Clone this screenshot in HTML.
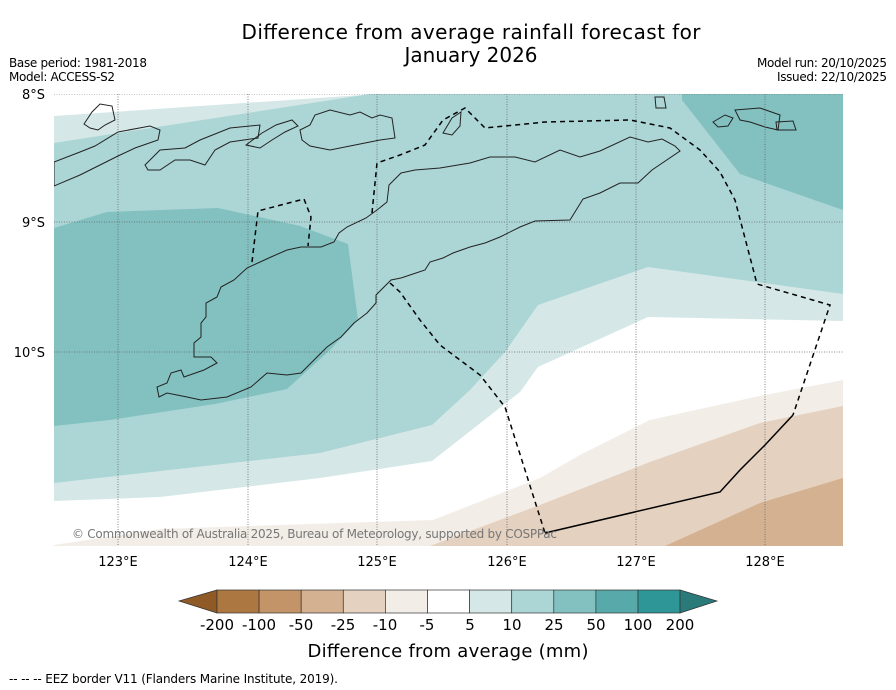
<!DOCTYPE html>
<html><head><meta charset="utf-8"><style>
html,body{margin:0;padding:0;background:#fff;}
svg{display:block;font-family:"DejaVu Sans","Liberation Sans",sans-serif;}
</style></head><body>
<svg width="896" height="690" viewBox="0 0 896 690">
<defs><clipPath id="mapclip"><rect x="54" y="94" width="789" height="452"/></clipPath></defs>
<text x="471" y="39" font-size="20" text-anchor="middle" textLength="459">Difference from average rainfall forecast for</text>
<text x="471" y="62" font-size="20" text-anchor="middle">January 2026</text>
<text x="9" y="67" font-size="12" textLength="138">Base period: 1981-2018</text>
<text x="9" y="81" font-size="12" textLength="106">Model: ACCESS-S2</text>
<text x="887" y="67" font-size="12" text-anchor="end" textLength="130">Model run: 20/10/2025</text>
<text x="887" y="81" font-size="12" text-anchor="end" textLength="110">Issued: 22/10/2025</text>

<g clip-path="url(#mapclip)">
<rect x="54" y="94" width="789" height="452" fill="#fff"/>
<polygon fill="#d5e8e7" points="54,116 377,94 843,94 843,321 648,317 538,367 520,392 432,461 320,478 160,497 54,501"/>
<polygon fill="#acd5d5" points="54,143 370,94 843,94 843,294 648,267 538,305 505,352 470,390 432,425 320,453 54,483"/>
<polygon fill="#82c1c0" points="54,228 107,212 218,208 300,226 348,244 358,320 330,350 287,389 215,404 110,420 54,426"/>
<polygon fill="#82c1c0" points="682,94 843,94 843,210 740,174 682,100"/>
<polygon fill="#f2ede7" points="54,546 54,545 160,529 433,520 540,478 580,455 650,420 755,397 843,380 843,546"/>
<polygon fill="#e4d1bf" points="430,546 540,505 650,462 760,423 843,406 843,546"/>
<polygon fill="#d4b190" points="665,546 760,503 843,478 843,546"/>
<g stroke="#666" stroke-width="0.8" stroke-dasharray="1,1.5" fill="none">
<line x1="118" y1="94" x2="118" y2="546"/><line x1="248" y1="94" x2="248" y2="546"/><line x1="377" y1="94" x2="377" y2="546"/><line x1="507" y1="94" x2="507" y2="546"/><line x1="636" y1="94" x2="636" y2="546"/><line x1="765" y1="94" x2="765" y2="546"/>
<line x1="54" y1="94" x2="843" y2="94"/><line x1="54" y1="222" x2="843" y2="222"/><line x1="54" y1="352" x2="843" y2="352"/>
</g>
<g fill="none" stroke="#222" stroke-width="1">
<polygon points="401,173 415,170 440,168 470,163 490,157 515,157 535,162 560,150 580,157 600,151 630,137 648,142 662,139 675,146 680,151 652,170 638,183 620,183 600,193 583,199 570,220 535,221 520,227 500,237 485,243 470,247 453,253 443,258 430,262 425,270 410,275 401,278 391,280 376,295 376,303 367,313 354,323 341,337 327,347 317,357 301,373 287,375 267,373 251,387 227,397 201,400 187,397 167,393 159,397 157,387 167,383 171,373 181,370 184,377 204,370 217,363 211,357 194,357 194,343 201,337 201,323 206,317 206,303 217,297 221,287 234,280 247,268 271,257 287,250 301,247 321,247 334,242 339,233 347,227 366,218 377,210 387,202 389,185"/>
<polygon points="54,162 80,152 95,146 118,132 150,126 160,130 158,140 135,148 118,156 100,165 80,175 54,186"/>
<polygon points="145,165 160,150 185,148 200,140 230,128 260,125 258,138 230,142 215,150 205,165 190,160 175,160 160,170 148,170"/>
<polygon points="84,124 92,112 100,104 112,106 115,120 105,125 98,130 90,128"/>
<polygon points="300,130 310,125 315,115 330,110 350,115 360,112 372,118 380,115 392,118 395,138 380,140 355,145 330,150 310,146 302,140"/>
<polygon points="246,145 262,133 276,125 292,120 298,126 285,132 272,140 260,148"/>
<polygon points="443,133 452,118 461,112 460,126 452,135"/>
<polygon points="655,97 664,97 666,108 656,108"/>
<polygon points="713,122 725,115 733,118 728,126 718,127"/>
<polygon points="735,110 760,108 780,115 778,130 765,127 750,122 740,120"/>
<polygon points="776,122 793,121 796,130 777,130"/>
</g>
<g fill="none" stroke="#000" stroke-width="1.5">
<polyline stroke-dasharray="5,4" points="252,262 258,211 304,199 311,217 308,246"/>
<polyline stroke-dasharray="5,4" points="372,213 377,163 400,155 425,145 443,120 465,108 485,128 545,122 630,120 670,128 700,150 720,172 735,200 757,284 830,305 793,415"/>
<polyline stroke-dasharray="5,4" points="390,283 400,292 420,320 440,345 480,375 505,407 545,533"/>
<polyline points="545,533 720,492 740,470 765,445 793,415"/>
</g>
<text x="72" y="538" font-size="12" fill="#777" textLength="485">© Commonwealth of Australia 2025, Bureau of Meteorology, supported by COSPPac</text>
</g>

<g font-size="13">
<text x="45" y="99" text-anchor="end">8°S</text><text x="45" y="227" text-anchor="end">9°S</text><text x="45" y="357" text-anchor="end">10°S</text>
</g>
<g font-size="13" text-anchor="middle">
<text x="118" y="566">123°E</text><text x="248" y="566">124°E</text><text x="377" y="566">125°E</text><text x="507" y="566">126°E</text><text x="636" y="566">127°E</text><text x="765" y="566">128°E</text>
</g>

<g stroke="#333" stroke-width="0.7">
<polygon points="179,601 217,590 217,613" fill="#8f5a25"/>
<rect x="217" y="590" width="42.1" height="23" fill="#ad7741"/>
<rect x="259.1" y="590" width="42.1" height="23" fill="#c29468"/>
<rect x="301.2" y="590" width="42.1" height="23" fill="#d4b190"/>
<rect x="343.3" y="590" width="42.1" height="23" fill="#e4d1bf"/>
<rect x="385.4" y="590" width="42.1" height="23" fill="#f2ede7"/>
<rect x="427.5" y="590" width="42.1" height="23" fill="#ffffff"/>
<rect x="469.6" y="590" width="42.1" height="23" fill="#d5e8e7"/>
<rect x="511.7" y="590" width="42.1" height="23" fill="#acd5d5"/>
<rect x="553.8" y="590" width="42.1" height="23" fill="#82c1c0"/>
<rect x="595.9" y="590" width="42.1" height="23" fill="#58a9a9"/>
<rect x="638" y="590" width="42.1" height="23" fill="#2e9696"/>
<polygon points="680,590 717,601 680,613" fill="#2a7a7a"/>
</g>
<g font-size="15" text-anchor="middle">
<text x="217" y="630">-200</text><text x="259" y="630">-100</text><text x="301" y="630">-50</text><text x="343" y="630">-25</text><text x="385" y="630">-10</text><text x="427" y="630">-5</text><text x="470" y="630">5</text><text x="512" y="630">10</text><text x="554" y="630">25</text><text x="596" y="630">50</text><text x="638" y="630">100</text><text x="680" y="630">200</text>
</g>
<text x="448" y="657" font-size="18" text-anchor="middle" textLength="281">Difference from average (mm)</text>
<text x="9" y="683" font-size="12" textLength="329">-- -- -- EEZ border V11 (Flanders Marine Institute, 2019).</text>
</svg>
</body></html>
